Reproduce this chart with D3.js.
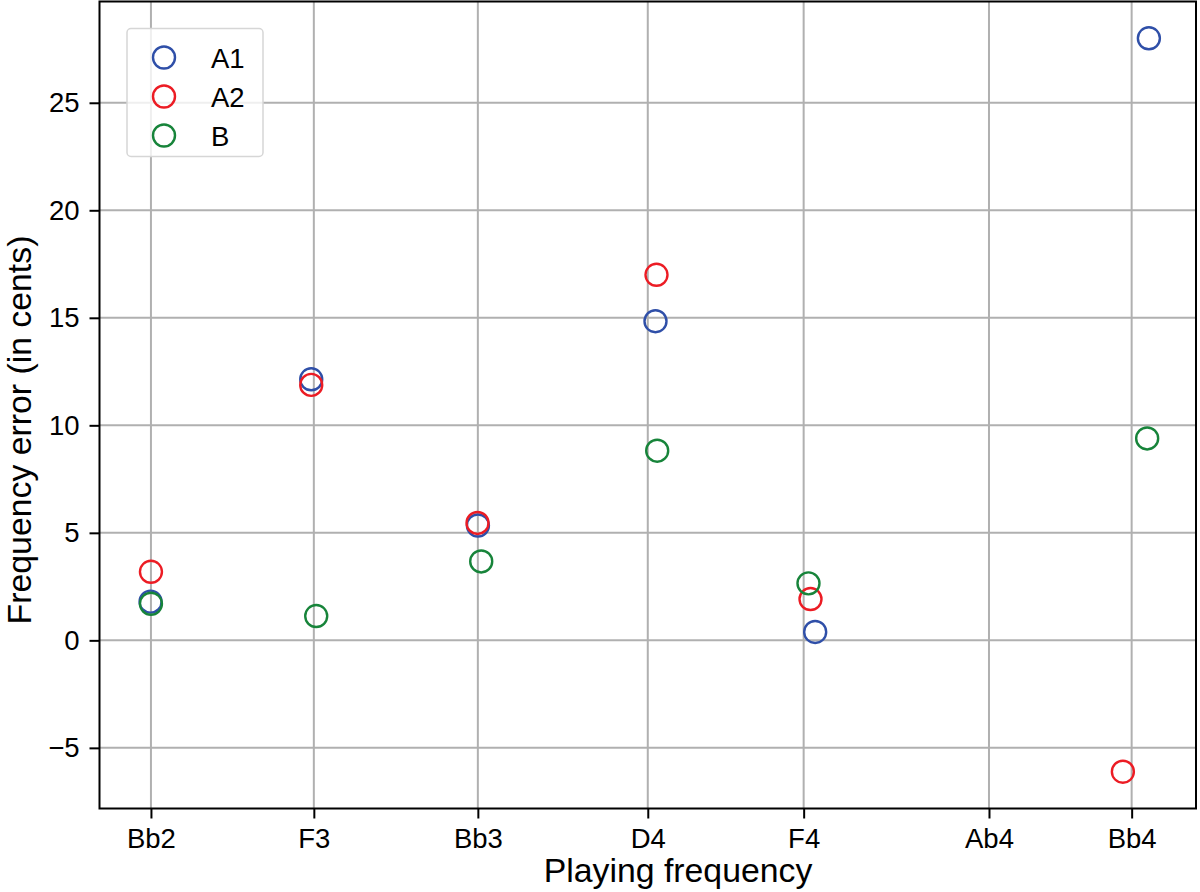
<!DOCTYPE html>
<html>
<head>
    <meta charset="utf-8">
    <title>Frequency error</title>
    <script src="https://d3js.org/d3.v7.min.js"></script>
    <style>
        html, body { margin: 0; padding: 0; background: white; }
        text { font-family: "Liberation Sans", Arial, sans-serif; }
    </style>
</head>
<body>
    <div id="chart"></div>
    <script>
        // Tick notes and their equal-tempered frequencies (Hz)
        const noteNames = ["Bb2", "F3", "Bb3", "D4", "F4", "Ab4", "Bb4"];
        const noteFreqs = [116.54, 174.61, 233.08, 293.66, 349.23, 415.30, 466.16];

        // Measured playing frequency (Hz) and error (cents) per instrument
        const a1Freq = [116.40, 173.68, 233.11, 296.41, 353.34, 472.30];
        const a1Cents = [1.80, 12.14, 5.34, 14.84, 0.39, 28.00];
        const a2Freq = [116.54, 173.68, 232.96, 296.77, 351.67, 463.03];
        const a2Cents = [3.19, 11.88, 5.46, 17.00, 1.92, -6.11];
        const bFreq = [116.54, 175.46, 234.28, 297.02, 350.95, 471.69];
        const bCents = [1.70, 1.13, 3.67, 8.82, 2.65, 9.39];

        const yTicks = [-5, 0, 5, 10, 15, 20, 25];

        const seriesNames = ["A1", "A2", "B"];
        const seriesColors = { "A1": "#2f4fa8", "A2": "#ec1c24", "B": "#17843a" };

        const series = [
            { name: "A1", x: a1Freq, y: a1Cents },
            { name: "A2", x: a2Freq, y: a2Cents },
            { name: "B", x: bFreq, y: bCents }
        ];

        const W = 1200, H = 892;
        const margins = { top: 1.5, right: 4, bottom: 83.5, left: 99.5 };
        const width = W - margins.left - margins.right;
        const height = H - margins.top - margins.bottom;
        const tickFont = "27.5px";

        const svg = d3.select("#chart").append("svg")
            .attr("width", W)
            .attr("height", H);

        const g = svg.append("g")
            .attr("transform", `translate(${margins.left},${margins.top})`);

        const xScale = d3.scaleLinear().domain([98.2, 489.1]).range([0, width]);
        const yScale = d3.scaleLinear().domain([-7.82, 29.71]).range([height, 0]);

        // grid
        g.append("g").selectAll("line").data(noteFreqs).enter().append("line")
            .attr("x1", d => xScale(d)).attr("x2", d => xScale(d))
            .attr("y1", 0).attr("y2", height)
            .attr("stroke", "#b0b0b0").attr("stroke-width", 2);
        g.append("g").selectAll("line").data(yTicks).enter().append("line")
            .attr("x1", 0).attr("x2", width)
            .attr("y1", d => yScale(d)).attr("y2", d => yScale(d))
            .attr("stroke", "#b0b0b0").attr("stroke-width", 2);

        // axes
        const xAxis = g.append("g")
            .attr("transform", `translate(0,${height})`)
            .call(d3.axisBottom(xScale)
                .tickValues(noteFreqs)
                .tickFormat((d, i) => noteNames[i])
                .tickSize(10).tickPadding(10));
        const yAxis = g.append("g")
            .call(d3.axisLeft(yScale)
                .tickValues(yTicks)
                .tickFormat(d => d < 0 ? "\u2212" + Math.abs(d) : d)
                .tickSize(10).tickPadding(10));

        [xAxis, yAxis].forEach(ax => {
            ax.select(".domain").remove();
            ax.selectAll(".tick line").attr("stroke", "black").attr("stroke-width", 2);
            ax.selectAll(".tick text")
                .attr("fill", "black")
                .style("font-size", tickFont)
                .style("font-family", "'Liberation Sans', Arial, sans-serif");
        });

        // frame
        g.append("rect")
            .attr("width", width).attr("height", height)
            .attr("fill", "none").attr("stroke", "black").attr("stroke-width", 2);

        // points
        series.forEach(s => {
            g.append("g").selectAll("circle")
                .data(s.x.map((x, i) => ({ x: x, y: s.y[i] })))
                .enter().append("circle")
                .attr("cx", d => xScale(d.x))
                .attr("cy", d => yScale(d.y))
                .attr("r", 11)
                .attr("fill", "none")
                .attr("stroke", seriesColors[s.name])
                .attr("stroke-width", 2.4);
        });

        // axis labels
        svg.append("text")
            .attr("x", 678)
            .attr("y", 882)
            .attr("text-anchor", "middle")
            .style("font-size", "33.8px")
            .text("Playing frequency");

        svg.append("text")
            .attr("transform", "translate(31,430) rotate(-90)")
            .attr("text-anchor", "middle")
            .style("font-size", "33.8px")
            .text("Frequency error (in cents)");

        // legend
        const legend = svg.append("g").attr("transform", "translate(127,28.5)");
        legend.append("rect")
            .attr("width", 136).attr("height", 128)
            .attr("rx", 4).attr("ry", 4)
            .attr("fill", "white").attr("fill-opacity", 0.8)
            .attr("stroke", "#d6d6d6").attr("stroke-width", 1.5);

        seriesNames.forEach((name, i) => {
            const entry = legend.append("g")
                .attr("transform", `translate(37,${29 + i * 39})`);
            entry.append("circle")
                .attr("r", 11)
                .attr("fill", "none")
                .attr("stroke", seriesColors[name])
                .attr("stroke-width", 2.4);
            entry.append("text")
                .attr("x", 47)
                .attr("y", 10)
                .style("font-size", tickFont)
                .text(name);
        });
    </script>
</body>
</html>
